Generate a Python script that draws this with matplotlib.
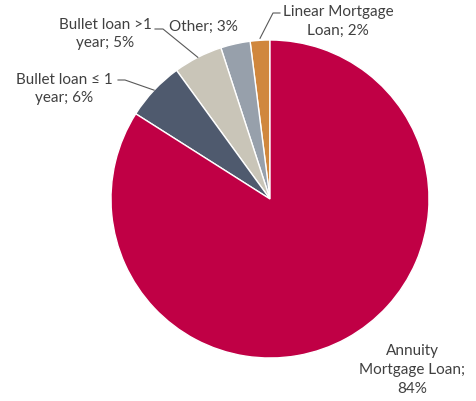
import numpy as np
import matplotlib.pyplot as plt

# loan type shares, counter-clockwise from 12 o'clock
labels = ['Linear Mortgage\nLoan; 2%', 'Other; 3%', 'Bullet loan >1\nyear; 5%',
          'Bullet loan \u2264 1\nyear; 6%', 'Annuity\nMortgage Loan;\n84%']
shares = [2, 3, 5, 6, 84]
colors = ['#D0873D', '#97A0AB', '#C9C5B8', '#4F5A6E', '#C00045']

W, H = 477, 401
cx, cy, r = 270, H - 199, 159

fig = plt.figure(figsize=(W / 100, H / 100), dpi=100)
ax = fig.add_axes([0, 0, 1, 1])

wedges, _ = ax.pie(shares, colors=colors, startangle=90, counterclock=True,
                   center=(cx, cy), radius=r, frame=True,
                   wedgeprops=dict(edgecolor='white', linewidth=1.0))
ax.set_xlim(0, W)
ax.set_ylim(0, H)
ax.set_aspect('equal')
ax.axis('off')

txt = dict(fontsize=11, color='#404040', family=['Lato', 'DejaVu Sans'],
           linespacing=1.45, va='center', ha='center')
line = dict(color='#595959', lw=0.8)


def edge_point(w):
    a = np.deg2rad((w.theta1 + w.theta2) / 2)
    return cx + r * np.cos(a), cy + r * np.sin(a)


# label positions (pixel space, y measured from the bottom)
pos = [(338, H - 21), (203, H - 27), (105, H - 34), (64, H - 89), (412, H - 370)]
for lab, (x, y) in zip(labels, pos):
    ax.text(x, y, lab, **txt)

# leader lines
ex, ey = edge_point(wedges[0])
ax.plot([ex, 273, 280], [ey + 2, H - 13, H - 13], **line)
ex, ey = edge_point(wedges[2])
ax.plot([ex, 163, 155], [ey, H - 29, H - 29], **line)
ex, ey = edge_point(wedges[3])
ax.plot([ex, 125, 118], [ey, H - 80, H - 80], **line)

fig.savefig('out.png', dpi=100, facecolor='white')
